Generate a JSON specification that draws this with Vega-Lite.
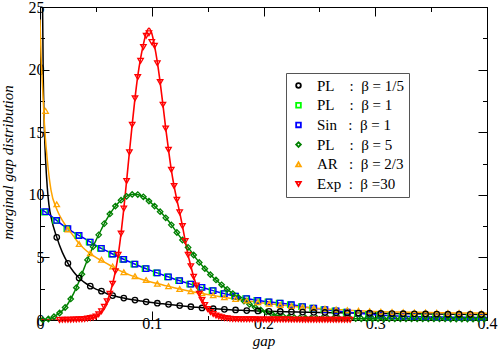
{
"$schema": "https://vega.github.io/schema/vega-lite/v6.json",
"width": 447, "height": 313,
"autosize": "none",
"padding": {"left": 40, "top": 7, "right": 11, "bottom": 31},
"background": "white",
"config": {
  "view": {"stroke": "black", "strokeWidth": 1},
  "font": "Liberation Serif",
  "axis": {"domainColor": "black", "domainWidth": 1, "tickColor": "black", "tickWidth": 1, "grid": false,
           "labelFont": "Liberation Serif", "labelFontSize": 16, "labelColor": "black",
           "titleFont": "Liberation Serif", "titleFontSize": 15, "titleFontStyle": "italic", "titleFontWeight": "normal", "titleColor": "black",
           "labelOverlap": false, "labelFlush": false},
  "legend": {"padding": 5, "strokeColor": "#555555", "fillColor": "white",
             "labelFont": "Liberation Serif", "labelFontSize": 15, "labelColor": "black", "labelOffset": 11,
             "rowPadding": 3.7, "symbolSize": 22, "symbolStrokeWidth": 1.8, "labelLimit": 300}
},
"datasets": {
"lines": [
{"s":"PL 1/5","x":0.0015,"y":40},{"s":"PL 1/5","x":0.0022,"y":26},{"s":"PL 1/5","x":0.003,"y":19},{"s":"PL 1/5","x":0.004,"y":15},{"s":"PL 1/5","x":0.005,"y":12.8},{"s":"PL 1/5","x":0.0065,"y":10.6},{"s":"PL 1/5","x":0.008,"y":9.2},{"s":"PL 1/5","x":0.0107,"y":7.9},{"s":"PL 1/5","x":0.0143,"y":6.8},{"s":"PL 1/5","x":0.02,"y":5.4},{"s":"PL 1/5","x":0.025,"y":4.53},{"s":"PL 1/5","x":0.03,"y":3.85},{"s":"PL 1/5","x":0.035,"y":3.35},{"s":"PL 1/5","x":0.04,"y":2.98},{"s":"PL 1/5","x":0.045,"y":2.7},{"s":"PL 1/5","x":0.05,"y":2.47},{"s":"PL 1/5","x":0.055,"y":2.3},{"s":"PL 1/5","x":0.06,"y":2.1},{"s":"PL 1/5","x":0.065,"y":1.95},{"s":"PL 1/5","x":0.07,"y":1.84},{"s":"PL 1/5","x":0.075,"y":1.75},{"s":"PL 1/5","x":0.08,"y":1.66},{"s":"PL 1/5","x":0.085,"y":1.59},{"s":"PL 1/5","x":0.09,"y":1.52},{"s":"PL 1/5","x":0.1,"y":1.39},{"s":"PL 1/5","x":0.11,"y":1.29},{"s":"PL 1/5","x":0.12,"y":1.2},{"s":"PL 1/5","x":0.13,"y":1.1},{"s":"PL 1/5","x":0.14,"y":1.02},{"s":"PL 1/5","x":0.15,"y":0.94},{"s":"PL 1/5","x":0.16,"y":0.87},{"s":"PL 1/5","x":0.17,"y":0.81},{"s":"PL 1/5","x":0.18,"y":0.77},{"s":"PL 1/5","x":0.19,"y":0.73},{"s":"PL 1/5","x":0.2,"y":0.7},{"s":"PL 1/5","x":0.22,"y":0.66},{"s":"PL 1/5","x":0.25,"y":0.6},{"s":"PL 1/5","x":0.3,"y":0.53},{"s":"PL 1/5","x":0.35,"y":0.48},{"s":"PL 1/5","x":0.4,"y":0.44},
{"s":"Sin 1","x":0,"y":8.92},{"s":"Sin 1","x":0.01,"y":8.3},{"s":"Sin 1","x":0.02,"y":7.6},{"s":"Sin 1","x":0.03,"y":7.0},{"s":"Sin 1","x":0.04,"y":6.5},{"s":"Sin 1","x":0.05,"y":5.95},{"s":"Sin 1","x":0.06,"y":5.5},{"s":"Sin 1","x":0.07,"y":5.05},{"s":"Sin 1","x":0.08,"y":4.65},{"s":"Sin 1","x":0.09,"y":4.27},{"s":"Sin 1","x":0.1,"y":3.92},{"s":"Sin 1","x":0.11,"y":3.6},{"s":"Sin 1","x":0.12,"y":3.28},{"s":"Sin 1","x":0.13,"y":3.0},{"s":"Sin 1","x":0.14,"y":2.72},{"s":"Sin 1","x":0.15,"y":2.47},{"s":"Sin 1","x":0.16,"y":2.22},{"s":"Sin 1","x":0.17,"y":2.0},{"s":"Sin 1","x":0.18,"y":1.8},{"s":"Sin 1","x":0.19,"y":1.63},{"s":"Sin 1","x":0.2,"y":1.5},{"s":"Sin 1","x":0.21,"y":1.4},{"s":"Sin 1","x":0.22,"y":1.29},{"s":"Sin 1","x":0.23,"y":1.15},{"s":"Sin 1","x":0.24,"y":1.0},{"s":"Sin 1","x":0.25,"y":0.89},{"s":"Sin 1","x":0.26,"y":0.78},{"s":"Sin 1","x":0.27,"y":0.67},{"s":"Sin 1","x":0.28,"y":0.57},{"s":"Sin 1","x":0.29,"y":0.49},{"s":"Sin 1","x":0.3,"y":0.42},{"s":"Sin 1","x":0.31,"y":0.36},{"s":"Sin 1","x":0.32,"y":0.31},{"s":"Sin 1","x":0.33,"y":0.28},{"s":"Sin 1","x":0.34,"y":0.26},{"s":"Sin 1","x":0.35,"y":0.24},{"s":"Sin 1","x":0.36,"y":0.23},{"s":"Sin 1","x":0.37,"y":0.22},{"s":"Sin 1","x":0.38,"y":0.21},{"s":"Sin 1","x":0.39,"y":0.2},{"s":"Sin 1","x":0.4,"y":0.19},
{"s":"PL 5","x":0,"y":0},{"s":"PL 5","x":0.005,"y":0.03},{"s":"PL 5","x":0.01,"y":0.15},{"s":"PL 5","x":0.015,"y":0.4},{"s":"PL 5","x":0.02,"y":0.75},{"s":"PL 5","x":0.025,"y":1.3},{"s":"PL 5","x":0.03,"y":2.1},{"s":"PL 5","x":0.035,"y":3.1},{"s":"PL 5","x":0.04,"y":4.25},{"s":"PL 5","x":0.045,"y":5.35},{"s":"PL 5","x":0.05,"y":6.35},{"s":"PL 5","x":0.055,"y":7.25},{"s":"PL 5","x":0.06,"y":8.1},{"s":"PL 5","x":0.065,"y":8.8},{"s":"PL 5","x":0.07,"y":9.35},{"s":"PL 5","x":0.075,"y":9.75},{"s":"PL 5","x":0.08,"y":9.98},{"s":"PL 5","x":0.085,"y":10.05},{"s":"PL 5","x":0.09,"y":9.95},{"s":"PL 5","x":0.095,"y":9.7},{"s":"PL 5","x":0.1,"y":9.3},{"s":"PL 5","x":0.105,"y":8.88},{"s":"PL 5","x":0.11,"y":8.42},{"s":"PL 5","x":0.115,"y":7.9},{"s":"PL 5","x":0.12,"y":7.3},{"s":"PL 5","x":0.125,"y":6.68},{"s":"PL 5","x":0.13,"y":6.1},{"s":"PL 5","x":0.135,"y":5.5},{"s":"PL 5","x":0.14,"y":4.88},{"s":"PL 5","x":0.145,"y":4.35},{"s":"PL 5","x":0.15,"y":3.85},{"s":"PL 5","x":0.155,"y":3.4},{"s":"PL 5","x":0.16,"y":3.0},{"s":"PL 5","x":0.165,"y":2.62},{"s":"PL 5","x":0.17,"y":2.28},{"s":"PL 5","x":0.175,"y":1.95},{"s":"PL 5","x":0.18,"y":1.65},{"s":"PL 5","x":0.185,"y":1.38},{"s":"PL 5","x":0.19,"y":1.12},{"s":"PL 5","x":0.195,"y":0.9},{"s":"PL 5","x":0.2,"y":0.71},{"s":"PL 5","x":0.205,"y":0.55},{"s":"PL 5","x":0.21,"y":0.42},{"s":"PL 5","x":0.215,"y":0.33},{"s":"PL 5","x":0.22,"y":0.26},{"s":"PL 5","x":0.225,"y":0.21},{"s":"PL 5","x":0.23,"y":0.18},{"s":"PL 5","x":0.24,"y":0.15},{"s":"PL 5","x":0.25,"y":0.13},{"s":"PL 5","x":0.275,"y":0.11},{"s":"PL 5","x":0.3,"y":0.1},{"s":"PL 5","x":0.35,"y":0.09},{"s":"PL 5","x":0.4,"y":0.08},
{"s":"AR 2/3","x":0,"y":24},{"s":"AR 2/3","x":0.001,"y":21},{"s":"AR 2/3","x":0.0024,"y":18.4},{"s":"AR 2/3","x":0.004,"y":15.6},{"s":"AR 2/3","x":0.0063,"y":13.0},{"s":"AR 2/3","x":0.0098,"y":10.4},{"s":"AR 2/3","x":0.015,"y":8.85},{"s":"AR 2/3","x":0.02,"y":7.95},{"s":"AR 2/3","x":0.025,"y":7.3},{"s":"AR 2/3","x":0.03,"y":6.7},{"s":"AR 2/3","x":0.035,"y":6.1},{"s":"AR 2/3","x":0.04,"y":5.65},{"s":"AR 2/3","x":0.045,"y":5.3},{"s":"AR 2/3","x":0.05,"y":5.0},{"s":"AR 2/3","x":0.055,"y":4.75},{"s":"AR 2/3","x":0.06,"y":4.5},{"s":"AR 2/3","x":0.065,"y":4.25},{"s":"AR 2/3","x":0.07,"y":4.0},{"s":"AR 2/3","x":0.075,"y":3.8},{"s":"AR 2/3","x":0.08,"y":3.6},{"s":"AR 2/3","x":0.09,"y":3.28},{"s":"AR 2/3","x":0.1,"y":3.02},{"s":"AR 2/3","x":0.11,"y":2.8},{"s":"AR 2/3","x":0.12,"y":2.58},{"s":"AR 2/3","x":0.13,"y":2.38},{"s":"AR 2/3","x":0.14,"y":2.2},{"s":"AR 2/3","x":0.15,"y":2.04},{"s":"AR 2/3","x":0.16,"y":1.88},{"s":"AR 2/3","x":0.17,"y":1.74},{"s":"AR 2/3","x":0.18,"y":1.6},{"s":"AR 2/3","x":0.19,"y":1.47},{"s":"AR 2/3","x":0.2,"y":1.35},{"s":"AR 2/3","x":0.21,"y":1.25},{"s":"AR 2/3","x":0.22,"y":1.15},{"s":"AR 2/3","x":0.23,"y":1.06},{"s":"AR 2/3","x":0.24,"y":0.99},{"s":"AR 2/3","x":0.25,"y":0.92},{"s":"AR 2/3","x":0.26,"y":0.86},{"s":"AR 2/3","x":0.27,"y":0.81},{"s":"AR 2/3","x":0.28,"y":0.76},{"s":"AR 2/3","x":0.29,"y":0.72},{"s":"AR 2/3","x":0.3,"y":0.68},{"s":"AR 2/3","x":0.32,"y":0.64},{"s":"AR 2/3","x":0.34,"y":0.61},{"s":"AR 2/3","x":0.36,"y":0.58},{"s":"AR 2/3","x":0.38,"y":0.56},{"s":"AR 2/3","x":0.4,"y":0.54},
{"s":"Exp 30","x":0,"y":0},{"s":"Exp 30","x":0.0175,"y":0},{"s":"Exp 30","x":0.02,"y":0.01},{"s":"Exp 30","x":0.025,"y":0.02},{"s":"Exp 30","x":0.03,"y":0.03},{"s":"Exp 30","x":0.035,"y":0.05},{"s":"Exp 30","x":0.04,"y":0.08},{"s":"Exp 30","x":0.0425,"y":0.11},{"s":"Exp 30","x":0.045,"y":0.15},{"s":"Exp 30","x":0.0475,"y":0.2},{"s":"Exp 30","x":0.05,"y":0.28},{"s":"Exp 30","x":0.0525,"y":0.45},{"s":"Exp 30","x":0.055,"y":0.7},{"s":"Exp 30","x":0.0575,"y":1.05},{"s":"Exp 30","x":0.06,"y":1.5},{"s":"Exp 30","x":0.0625,"y":2.1},{"s":"Exp 30","x":0.065,"y":2.9},{"s":"Exp 30","x":0.0675,"y":3.9},{"s":"Exp 30","x":0.07,"y":5.2},{"s":"Exp 30","x":0.0725,"y":6.9},{"s":"Exp 30","x":0.075,"y":8.9},{"s":"Exp 30","x":0.0775,"y":11.1},{"s":"Exp 30","x":0.08,"y":13.4},{"s":"Exp 30","x":0.0825,"y":15.6},{"s":"Exp 30","x":0.085,"y":17.7},{"s":"Exp 30","x":0.0875,"y":19.5},{"s":"Exp 30","x":0.09,"y":20.9},{"s":"Exp 30","x":0.0925,"y":22.0},{"s":"Exp 30","x":0.095,"y":22.9},{"s":"Exp 30","x":0.0975,"y":23.3},{"s":"Exp 30","x":0.1,"y":22.9},{"s":"Exp 30","x":0.1025,"y":21.9},{"s":"Exp 30","x":0.105,"y":20.6},{"s":"Exp 30","x":0.1075,"y":19.0},{"s":"Exp 30","x":0.11,"y":17.2},{"s":"Exp 30","x":0.1125,"y":15.3},{"s":"Exp 30","x":0.115,"y":13.6},{"s":"Exp 30","x":0.1175,"y":12.0},{"s":"Exp 30","x":0.12,"y":10.7},{"s":"Exp 30","x":0.1225,"y":9.6},{"s":"Exp 30","x":0.125,"y":8.6},{"s":"Exp 30","x":0.1275,"y":7.5},{"s":"Exp 30","x":0.13,"y":6.3},{"s":"Exp 30","x":0.1325,"y":5.2},{"s":"Exp 30","x":0.135,"y":4.3},{"s":"Exp 30","x":0.1375,"y":3.45},{"s":"Exp 30","x":0.14,"y":2.75},{"s":"Exp 30","x":0.1425,"y":2.1},{"s":"Exp 30","x":0.145,"y":1.6},{"s":"Exp 30","x":0.1475,"y":1.2},{"s":"Exp 30","x":0.15,"y":0.88},{"s":"Exp 30","x":0.1525,"y":0.64},{"s":"Exp 30","x":0.155,"y":0.48},{"s":"Exp 30","x":0.1575,"y":0.36},{"s":"Exp 30","x":0.16,"y":0.27},{"s":"Exp 30","x":0.1625,"y":0.21},{"s":"Exp 30","x":0.165,"y":0.16},{"s":"Exp 30","x":0.17,"y":0.1},{"s":"Exp 30","x":0.175,"y":0.07},{"s":"Exp 30","x":0.18,"y":0.06},{"s":"Exp 30","x":0.19,"y":0.05},{"s":"Exp 30","x":0.2,"y":0.04},{"s":"Exp 30","x":0.22,"y":0.03},{"s":"Exp 30","x":0.25,"y":0.02},{"s":"Exp 30","x":0.2775,"y":0.01}
],
"pts": [
{"s":"PL 1","x":0.004,"y":8.62},{"s":"PL 1","x":0.014,"y":7.95},{"s":"PL 1","x":0.024,"y":7.3},{"s":"PL 1","x":0.034,"y":6.75},{"s":"PL 1","x":0.044,"y":6.22},{"s":"PL 1","x":0.054,"y":5.72},{"s":"PL 1","x":0.064,"y":5.27},{"s":"PL 1","x":0.074,"y":4.85},{"s":"PL 1","x":0.084,"y":4.46},{"s":"PL 1","x":0.094,"y":4.1},{"s":"PL 1","x":0.104,"y":3.76},{"s":"PL 1","x":0.114,"y":3.44},{"s":"PL 1","x":0.124,"y":3.14},{"s":"PL 1","x":0.134,"y":2.86},{"s":"PL 1","x":0.144,"y":2.6},{"s":"PL 1","x":0.154,"y":2.34},{"s":"PL 1","x":0.164,"y":2.11},{"s":"PL 1","x":0.174,"y":1.9},{"s":"PL 1","x":0.184,"y":1.71},{"s":"PL 1","x":0.194,"y":1.56},{"s":"PL 1","x":0.204,"y":1.45},{"s":"PL 1","x":0.214,"y":1.35},{"s":"PL 1","x":0.224,"y":1.22},{"s":"PL 1","x":0.234,"y":1.07},{"s":"PL 1","x":0.244,"y":0.94},{"s":"PL 1","x":0.254,"y":0.83},{"s":"PL 1","x":0.264,"y":0.72},{"s":"PL 1","x":0.274,"y":0.62},{"s":"PL 1","x":0.284,"y":0.53},{"s":"PL 1","x":0.294,"y":0.45},{"s":"PL 1","x":0.304,"y":0.39},{"s":"PL 1","x":0.314,"y":0.33},{"s":"PL 1","x":0.324,"y":0.29},{"s":"PL 1","x":0.334,"y":0.27},{"s":"PL 1","x":0.344,"y":0.25},{"s":"PL 1","x":0.354,"y":0.23},{"s":"PL 1","x":0.364,"y":0.22},{"s":"PL 1","x":0.374,"y":0.21},{"s":"PL 1","x":0.384,"y":0.2},{"s":"PL 1","x":0.394,"y":0.19},
{"s":"Sin 1","x":0.005,"y":8.65},{"s":"Sin 1","x":0.015,"y":7.95},{"s":"Sin 1","x":0.025,"y":7.3},{"s":"Sin 1","x":0.035,"y":6.75},{"s":"Sin 1","x":0.045,"y":6.22},{"s":"Sin 1","x":0.055,"y":5.72},{"s":"Sin 1","x":0.065,"y":5.27},{"s":"Sin 1","x":0.075,"y":4.85},{"s":"Sin 1","x":0.085,"y":4.46},{"s":"Sin 1","x":0.095,"y":4.1},{"s":"Sin 1","x":0.105,"y":3.76},{"s":"Sin 1","x":0.115,"y":3.44},{"s":"Sin 1","x":0.125,"y":3.14},{"s":"Sin 1","x":0.135,"y":2.86},{"s":"Sin 1","x":0.145,"y":2.6},{"s":"Sin 1","x":0.155,"y":2.34},{"s":"Sin 1","x":0.165,"y":2.11},{"s":"Sin 1","x":0.175,"y":1.9},{"s":"Sin 1","x":0.185,"y":1.71},{"s":"Sin 1","x":0.195,"y":1.56},{"s":"Sin 1","x":0.205,"y":1.45},{"s":"Sin 1","x":0.215,"y":1.35},{"s":"Sin 1","x":0.225,"y":1.22},{"s":"Sin 1","x":0.235,"y":1.07},{"s":"Sin 1","x":0.245,"y":0.94},{"s":"Sin 1","x":0.255,"y":0.83},{"s":"Sin 1","x":0.265,"y":0.72},{"s":"Sin 1","x":0.275,"y":0.62},{"s":"Sin 1","x":0.285,"y":0.53},{"s":"Sin 1","x":0.295,"y":0.45},{"s":"Sin 1","x":0.305,"y":0.39},{"s":"Sin 1","x":0.315,"y":0.33},{"s":"Sin 1","x":0.325,"y":0.29},{"s":"Sin 1","x":0.335,"y":0.27},{"s":"Sin 1","x":0.345,"y":0.25},{"s":"Sin 1","x":0.355,"y":0.23},{"s":"Sin 1","x":0.365,"y":0.22},{"s":"Sin 1","x":0.375,"y":0.21},{"s":"Sin 1","x":0.385,"y":0.2},{"s":"Sin 1","x":0.395,"y":0.19},
{"s":"PL 5","x":0.0025,"y":0.01},{"s":"PL 5","x":0.0075,"y":0.08},{"s":"PL 5","x":0.0125,"y":0.26},{"s":"PL 5","x":0.0175,"y":0.56},{"s":"PL 5","x":0.0225,"y":1.0},{"s":"PL 5","x":0.0275,"y":1.68},{"s":"PL 5","x":0.0325,"y":2.58},{"s":"PL 5","x":0.0375,"y":3.66},{"s":"PL 5","x":0.0425,"y":4.8},{"s":"PL 5","x":0.0475,"y":5.86},{"s":"PL 5","x":0.0525,"y":6.8},{"s":"PL 5","x":0.0575,"y":7.7},{"s":"PL 5","x":0.0625,"y":8.47},{"s":"PL 5","x":0.0675,"y":9.1},{"s":"PL 5","x":0.0725,"y":9.57},{"s":"PL 5","x":0.0775,"y":9.88},{"s":"PL 5","x":0.0825,"y":10.03},{"s":"PL 5","x":0.0875,"y":10.02},{"s":"PL 5","x":0.0925,"y":9.84},{"s":"PL 5","x":0.0975,"y":9.5},{"s":"PL 5","x":0.1025,"y":9.1},{"s":"PL 5","x":0.1075,"y":8.65},{"s":"PL 5","x":0.1125,"y":8.16},{"s":"PL 5","x":0.1175,"y":7.6},{"s":"PL 5","x":0.1225,"y":6.99},{"s":"PL 5","x":0.1275,"y":6.39},{"s":"PL 5","x":0.1325,"y":5.8},{"s":"PL 5","x":0.1375,"y":5.19},{"s":"PL 5","x":0.1425,"y":4.6},{"s":"PL 5","x":0.1475,"y":4.1},{"s":"PL 5","x":0.1525,"y":3.62},{"s":"PL 5","x":0.1575,"y":3.2},{"s":"PL 5","x":0.1625,"y":2.81},{"s":"PL 5","x":0.1675,"y":2.45},{"s":"PL 5","x":0.1725,"y":2.11},{"s":"PL 5","x":0.1775,"y":1.8},{"s":"PL 5","x":0.1825,"y":1.51},{"s":"PL 5","x":0.1875,"y":1.25},{"s":"PL 5","x":0.1925,"y":1.01},{"s":"PL 5","x":0.1975,"y":0.8},{"s":"PL 5","x":0.2025,"y":0.63},{"s":"PL 5","x":0.2075,"y":0.48},{"s":"PL 5","x":0.2125,"y":0.37},{"s":"PL 5","x":0.2175,"y":0.29},{"s":"PL 5","x":0.2225,"y":0.23},{"s":"PL 5","x":0.2275,"y":0.19},{"s":"PL 5","x":0.2325,"y":0.17},{"s":"PL 5","x":0.2375,"y":0.16},{"s":"PL 5","x":0.2425,"y":0.15},{"s":"PL 5","x":0.2475,"y":0.14},{"s":"PL 5","x":0.2525,"y":0.13},{"s":"PL 5","x":0.2575,"y":0.13},{"s":"PL 5","x":0.2625,"y":0.12},{"s":"PL 5","x":0.2675,"y":0.12},{"s":"PL 5","x":0.2725,"y":0.11},{"s":"PL 5","x":0.2775,"y":0.11},{"s":"PL 5","x":0.2825,"y":0.11},{"s":"PL 5","x":0.2875,"y":0.1},{"s":"PL 5","x":0.2925,"y":0.1},{"s":"PL 5","x":0.2975,"y":0.1},{"s":"PL 5","x":0.3025,"y":0.1},{"s":"PL 5","x":0.3075,"y":0.1},{"s":"PL 5","x":0.3125,"y":0.1},{"s":"PL 5","x":0.3175,"y":0.1},{"s":"PL 5","x":0.3225,"y":0.09},{"s":"PL 5","x":0.3275,"y":0.09},{"s":"PL 5","x":0.3325,"y":0.09},{"s":"PL 5","x":0.3375,"y":0.09},{"s":"PL 5","x":0.3425,"y":0.09},{"s":"PL 5","x":0.3475,"y":0.09},{"s":"PL 5","x":0.3525,"y":0.09},{"s":"PL 5","x":0.3575,"y":0.09},{"s":"PL 5","x":0.3625,"y":0.09},{"s":"PL 5","x":0.3675,"y":0.08},{"s":"PL 5","x":0.3725,"y":0.08},{"s":"PL 5","x":0.3775,"y":0.08},{"s":"PL 5","x":0.3825,"y":0.08},{"s":"PL 5","x":0.3875,"y":0.08},{"s":"PL 5","x":0.3925,"y":0.08},{"s":"PL 5","x":0.3975,"y":0.08},
{"s":"AR 2/3","x":0.005,"y":16.7},{"s":"AR 2/3","x":0.015,"y":9.24},{"s":"AR 2/3","x":0.025,"y":7.24},{"s":"AR 2/3","x":0.035,"y":6.07},{"s":"AR 2/3","x":0.045,"y":5.33},{"s":"AR 2/3","x":0.055,"y":4.82},{"s":"AR 2/3","x":0.065,"y":4.28},{"s":"AR 2/3","x":0.075,"y":3.82},{"s":"AR 2/3","x":0.085,"y":3.5},{"s":"AR 2/3","x":0.095,"y":3.19},{"s":"AR 2/3","x":0.105,"y":2.9},{"s":"AR 2/3","x":0.115,"y":2.7},{"s":"AR 2/3","x":0.125,"y":2.48},{"s":"AR 2/3","x":0.135,"y":2.3},{"s":"AR 2/3","x":0.145,"y":2.13},{"s":"AR 2/3","x":0.155,"y":1.97},{"s":"AR 2/3","x":0.165,"y":1.81},{"s":"AR 2/3","x":0.175,"y":1.67},{"s":"AR 2/3","x":0.185,"y":1.55},{"s":"AR 2/3","x":0.195,"y":1.42},{"s":"AR 2/3","x":0.205,"y":1.3},{"s":"AR 2/3","x":0.215,"y":1.2},{"s":"AR 2/3","x":0.225,"y":1.11},{"s":"AR 2/3","x":0.235,"y":1.03},{"s":"AR 2/3","x":0.245,"y":0.96},{"s":"AR 2/3","x":0.255,"y":0.9},{"s":"AR 2/3","x":0.265,"y":0.84},{"s":"AR 2/3","x":0.275,"y":0.79},{"s":"AR 2/3","x":0.285,"y":0.74},{"s":"AR 2/3","x":0.295,"y":0.7},{"s":"AR 2/3","x":0.305,"y":0.67},{"s":"AR 2/3","x":0.315,"y":0.65},{"s":"AR 2/3","x":0.325,"y":0.63},{"s":"AR 2/3","x":0.335,"y":0.61},{"s":"AR 2/3","x":0.345,"y":0.6},{"s":"AR 2/3","x":0.355,"y":0.58},{"s":"AR 2/3","x":0.365,"y":0.57},{"s":"AR 2/3","x":0.375,"y":0.56},{"s":"AR 2/3","x":0.385,"y":0.55},{"s":"AR 2/3","x":0.395,"y":0.54},
{"s":"PL 1/5","x":0.015,"y":6.6},{"s":"PL 1/5","x":0.025,"y":4.53},{"s":"PL 1/5","x":0.035,"y":3.35},{"s":"PL 1/5","x":0.045,"y":2.7},{"s":"PL 1/5","x":0.055,"y":2.3},{"s":"PL 1/5","x":0.065,"y":1.95},{"s":"PL 1/5","x":0.075,"y":1.75},{"s":"PL 1/5","x":0.085,"y":1.59},{"s":"PL 1/5","x":0.095,"y":1.45},{"s":"PL 1/5","x":0.105,"y":1.34},{"s":"PL 1/5","x":0.115,"y":1.25},{"s":"PL 1/5","x":0.125,"y":1.15},{"s":"PL 1/5","x":0.135,"y":1.06},{"s":"PL 1/5","x":0.145,"y":0.96},{"s":"PL 1/5","x":0.155,"y":0.9},{"s":"PL 1/5","x":0.165,"y":0.85},{"s":"PL 1/5","x":0.175,"y":0.8},{"s":"PL 1/5","x":0.185,"y":0.75},{"s":"PL 1/5","x":0.195,"y":0.72},{"s":"PL 1/5","x":0.205,"y":0.69},{"s":"PL 1/5","x":0.215,"y":0.68},{"s":"PL 1/5","x":0.225,"y":0.65},{"s":"PL 1/5","x":0.235,"y":0.63},{"s":"PL 1/5","x":0.245,"y":0.61},{"s":"PL 1/5","x":0.255,"y":0.6},{"s":"PL 1/5","x":0.265,"y":0.58},{"s":"PL 1/5","x":0.275,"y":0.56},{"s":"PL 1/5","x":0.285,"y":0.55},{"s":"PL 1/5","x":0.295,"y":0.54},{"s":"PL 1/5","x":0.305,"y":0.52},{"s":"PL 1/5","x":0.315,"y":0.51},{"s":"PL 1/5","x":0.325,"y":0.5},{"s":"PL 1/5","x":0.335,"y":0.49},{"s":"PL 1/5","x":0.345,"y":0.48},{"s":"PL 1/5","x":0.355,"y":0.47},{"s":"PL 1/5","x":0.365,"y":0.46},{"s":"PL 1/5","x":0.375,"y":0.46},{"s":"PL 1/5","x":0.385,"y":0.45},{"s":"PL 1/5","x":0.395,"y":0.44},
{"s":"Exp 30","x":0.0175,"y":0},{"s":"Exp 30","x":0.02,"y":0.01},{"s":"Exp 30","x":0.0225,"y":0.01},{"s":"Exp 30","x":0.025,"y":0.02},{"s":"Exp 30","x":0.0275,"y":0.02},{"s":"Exp 30","x":0.03,"y":0.03},{"s":"Exp 30","x":0.0325,"y":0.04},{"s":"Exp 30","x":0.035,"y":0.05},{"s":"Exp 30","x":0.0375,"y":0.06},{"s":"Exp 30","x":0.04,"y":0.08},{"s":"Exp 30","x":0.0425,"y":0.11},{"s":"Exp 30","x":0.045,"y":0.15},{"s":"Exp 30","x":0.0475,"y":0.2},{"s":"Exp 30","x":0.05,"y":0.28},{"s":"Exp 30","x":0.0525,"y":0.45},{"s":"Exp 30","x":0.055,"y":0.7},{"s":"Exp 30","x":0.0575,"y":1.05},{"s":"Exp 30","x":0.06,"y":1.5},{"s":"Exp 30","x":0.0625,"y":2.1},{"s":"Exp 30","x":0.065,"y":2.9},{"s":"Exp 30","x":0.0675,"y":3.9},{"s":"Exp 30","x":0.07,"y":5.2},{"s":"Exp 30","x":0.0725,"y":6.9},{"s":"Exp 30","x":0.075,"y":8.9},{"s":"Exp 30","x":0.0775,"y":11.1},{"s":"Exp 30","x":0.08,"y":13.4},{"s":"Exp 30","x":0.0825,"y":15.6},{"s":"Exp 30","x":0.085,"y":17.7},{"s":"Exp 30","x":0.0875,"y":19.4},{"s":"Exp 30","x":0.09,"y":20.7},{"s":"Exp 30","x":0.0925,"y":21.8},{"s":"Exp 30","x":0.095,"y":22.7},{"s":"Exp 30","x":0.0975,"y":22.9},{"s":"Exp 30","x":0.1,"y":22.2},{"s":"Exp 30","x":0.1025,"y":21.9},{"s":"Exp 30","x":0.105,"y":20.5},{"s":"Exp 30","x":0.1075,"y":19.0},{"s":"Exp 30","x":0.11,"y":17.2},{"s":"Exp 30","x":0.1125,"y":15.3},{"s":"Exp 30","x":0.115,"y":13.6},{"s":"Exp 30","x":0.1175,"y":12.0},{"s":"Exp 30","x":0.12,"y":10.7},{"s":"Exp 30","x":0.1225,"y":9.6},{"s":"Exp 30","x":0.125,"y":8.6},{"s":"Exp 30","x":0.1275,"y":7.5},{"s":"Exp 30","x":0.13,"y":6.3},{"s":"Exp 30","x":0.1325,"y":5.2},{"s":"Exp 30","x":0.135,"y":4.3},{"s":"Exp 30","x":0.1375,"y":3.45},{"s":"Exp 30","x":0.14,"y":2.75},{"s":"Exp 30","x":0.1425,"y":2.1},{"s":"Exp 30","x":0.145,"y":1.6},{"s":"Exp 30","x":0.1475,"y":1.2},{"s":"Exp 30","x":0.15,"y":0.88},{"s":"Exp 30","x":0.1525,"y":0.64},{"s":"Exp 30","x":0.155,"y":0.48},{"s":"Exp 30","x":0.1575,"y":0.36},{"s":"Exp 30","x":0.16,"y":0.27},{"s":"Exp 30","x":0.1625,"y":0.21},{"s":"Exp 30","x":0.165,"y":0.16},{"s":"Exp 30","x":0.1675,"y":0.13},{"s":"Exp 30","x":0.17,"y":0.1},{"s":"Exp 30","x":0.1725,"y":0.08},{"s":"Exp 30","x":0.175,"y":0.07},{"s":"Exp 30","x":0.1775,"y":0.065},{"s":"Exp 30","x":0.18,"y":0.06},{"s":"Exp 30","x":0.1825,"y":0.06},{"s":"Exp 30","x":0.185,"y":0.055},{"s":"Exp 30","x":0.1875,"y":0.055},{"s":"Exp 30","x":0.19,"y":0.05},{"s":"Exp 30","x":0.1925,"y":0.05},{"s":"Exp 30","x":0.195,"y":0.045},{"s":"Exp 30","x":0.1975,"y":0.045},{"s":"Exp 30","x":0.2,"y":0.04},{"s":"Exp 30","x":0.2025,"y":0.04},{"s":"Exp 30","x":0.205,"y":0.04},{"s":"Exp 30","x":0.2075,"y":0.035},{"s":"Exp 30","x":0.21,"y":0.035},{"s":"Exp 30","x":0.2125,"y":0.035},{"s":"Exp 30","x":0.215,"y":0.03},{"s":"Exp 30","x":0.2175,"y":0.03},{"s":"Exp 30","x":0.22,"y":0.03},{"s":"Exp 30","x":0.2225,"y":0.03},{"s":"Exp 30","x":0.225,"y":0.025},{"s":"Exp 30","x":0.2275,"y":0.025},{"s":"Exp 30","x":0.23,"y":0.025},{"s":"Exp 30","x":0.2325,"y":0.025},{"s":"Exp 30","x":0.235,"y":0.02},{"s":"Exp 30","x":0.2375,"y":0.02},{"s":"Exp 30","x":0.24,"y":0.02},{"s":"Exp 30","x":0.2425,"y":0.02},{"s":"Exp 30","x":0.245,"y":0.02},{"s":"Exp 30","x":0.2475,"y":0.02},{"s":"Exp 30","x":0.25,"y":0.02},{"s":"Exp 30","x":0.2525,"y":0.015},{"s":"Exp 30","x":0.255,"y":0.015},{"s":"Exp 30","x":0.2575,"y":0.015},{"s":"Exp 30","x":0.26,"y":0.015},{"s":"Exp 30","x":0.2625,"y":0.015},{"s":"Exp 30","x":0.265,"y":0.01},{"s":"Exp 30","x":0.2675,"y":0.01},{"s":"Exp 30","x":0.27,"y":0.01},{"s":"Exp 30","x":0.2725,"y":0.01},{"s":"Exp 30","x":0.275,"y":0.01},{"s":"Exp 30","x":0.2775,"y":0.01}
]
},
"layer": [
 {
  "data": {"name": "lines"},
  "transform": [{"filter": "datum.s == 'PL 1/5'"}],
  "mark": {"type": "line", "interpolate": "monotone", "clip": true, "strokeWidth": 1.5, "color": "#000000"},
  "encoding": {
   "x": {"field": "x", "type": "quantitative", "scale": {"domain": [0, 0.4], "nice": false, "zero": false},
         "axis": {"orient": "bottom", "values": [0,0.05,0.1,0.15,0.2,0.25,0.3,0.35,0.4], "title": "gap",
                  "labelExpr": "abs(datum.value*10 - round(datum.value*10)) < 0.001 ? (datum.value == 0 ? '0' : format(datum.value, '.1f')) : ''",
                  "tickSize": {"condition": {"test": "abs(datum.value*10 - round(datum.value*10)) < 0.001", "value": -9}, "value": -4.5},
                  "labelPadding": 4, "titleBaseline": "alphabetic", "titleY": 25}},
   "y": {"field": "y", "type": "quantitative", "scale": {"domain": [0, 25], "nice": false},
         "axis": {"orient": "left", "values": [0,2.5,5,7.5,10,12.5,15,17.5,20,22.5,25], "title": "marginal gap distribution",
                  "labelExpr": "abs(datum.value/5 - round(datum.value/5)) < 0.001 ? format(datum.value, 'd') : ''",
                  "tickSize": {"condition": {"test": "abs(datum.value/5 - round(datum.value/5)) < 0.001", "value": -9}, "value": -4.5},
                  "labelPadding": 5, "titleX": -28, "titleY": 155, "titleBaseline": "alphabetic", "titleAngle": -90}}
  }
 },
 {
  "data": {"name": "lines"},
  "transform": [{"filter": "datum.s == 'Sin 1'"}],
  "mark": {"type": "line", "interpolate": "monotone", "clip": true, "strokeWidth": 1.5, "color": "#0000ff"},
  "encoding": {
   "x": {"field": "x", "type": "quantitative", "scale": {"domain": [0, 0.4], "nice": false, "zero": false}, "axis": null},
   "y": {"field": "y", "type": "quantitative", "scale": {"domain": [0, 25], "nice": false}, "axis": null}
  }
 },
 {
  "data": {"name": "lines"},
  "transform": [{"filter": "datum.s == 'PL 5'"}],
  "mark": {"type": "line", "interpolate": "monotone", "clip": true, "strokeWidth": 1.5, "color": "#008000"},
  "encoding": {
   "x": {"field": "x", "type": "quantitative", "scale": {"domain": [0, 0.4], "nice": false, "zero": false}, "axis": null},
   "y": {"field": "y", "type": "quantitative", "scale": {"domain": [0, 25], "nice": false}, "axis": null}
  }
 },
 {
  "data": {"name": "lines"},
  "transform": [{"filter": "datum.s == 'AR 2/3'"}],
  "mark": {"type": "line", "interpolate": "monotone", "clip": true, "strokeWidth": 1.5, "color": "#ffa500"},
  "encoding": {
   "x": {"field": "x", "type": "quantitative", "scale": {"domain": [0, 0.4], "nice": false, "zero": false}, "axis": null},
   "y": {"field": "y", "type": "quantitative", "scale": {"domain": [0, 25], "nice": false}, "axis": null}
  }
 },
 {
  "data": {"name": "lines"},
  "transform": [{"filter": "datum.s == 'Exp 30'"}],
  "mark": {"type": "line", "interpolate": "monotone", "clip": true, "strokeWidth": 1.6, "color": "#ff0000"},
  "encoding": {
   "x": {"field": "x", "type": "quantitative", "scale": {"domain": [0, 0.4], "nice": false, "zero": false}, "axis": null},
   "y": {"field": "y", "type": "quantitative", "scale": {"domain": [0, 25], "nice": false}, "axis": null}
  }
 },
 {
  "data": {"name": "pts"},
  "mark": {"type": "point", "filled": false, "strokeWidth": 1.3, "size": 30, "opacity": 1},
  "encoding": {
   "x": {"field": "x", "type": "quantitative", "scale": {"domain": [0, 0.4], "nice": false, "zero": false},
         "axis": {"orient": "top", "values": [0,0.05,0.1,0.15,0.2,0.25,0.3,0.35,0.4], "labels": false, "title": null,
                  "tickSize": {"condition": {"test": "abs(datum.value*10 - round(datum.value*10)) < 0.001", "value": -9}, "value": -4.5}}},
   "y": {"field": "y", "type": "quantitative", "scale": {"domain": [0, 25], "nice": false},
         "axis": {"orient": "right", "values": [0,2.5,5,7.5,10,12.5,15,17.5,20,22.5,25], "labels": false, "title": null,
                  "tickSize": {"condition": {"test": "abs(datum.value/5 - round(datum.value/5)) < 0.001", "value": -9}, "value": -4.5}}},
   "color": {"field": "s", "type": "nominal",
             "scale": {"domain": ["PL 1/5", "PL 1", "Sin 1", "PL 5", "AR 2/3", "Exp 30"], "range": ["#000000", "#00ff00", "#0000ff", "#008000", "#ffa500", "#ff0000"]},
             "legend": {"title": null, "orient": "none", "legendX": 246, "legendY": 66,
                        "labelExpr": "datum.label == 'PL 1/5' ? 'PL\u00a0\u00a0\u00a0\u00a0:\u00a0\u00a0β = 1/5' : datum.label == 'PL 1' ? 'PL\u00a0\u00a0\u00a0\u00a0:\u00a0\u00a0β = 1' : datum.label == 'Sin 1' ? 'Sin\u00a0\u00a0\u00a0:\u00a0\u00a0β = 1' : datum.label == 'PL 5' ? 'PL\u00a0\u00a0\u00a0\u00a0:\u00a0\u00a0β = 5' : datum.label == 'AR 2/3' ? 'AR\u00a0\u00a0\u00a0:\u00a0\u00a0β = 2/3' : 'Exp\u00a0\u00a0:\u00a0\u00a0β =30'"}},
   "shape": {"field": "s", "type": "nominal",
             "scale": {"domain": ["PL 1/5", "PL 1", "Sin 1", "PL 5", "AR 2/3", "Exp 30"], "range": ["circle", "square", "square", "diamond", "triangle-up", "triangle-down"]},
             "legend": {"title": null, "orient": "none", "legendX": 246, "legendY": 66,
                        "labelExpr": "datum.label == 'PL 1/5' ? 'PL\u00a0\u00a0\u00a0\u00a0:\u00a0\u00a0β = 1/5' : datum.label == 'PL 1' ? 'PL\u00a0\u00a0\u00a0\u00a0:\u00a0\u00a0β = 1' : datum.label == 'Sin 1' ? 'Sin\u00a0\u00a0\u00a0:\u00a0\u00a0β = 1' : datum.label == 'PL 5' ? 'PL\u00a0\u00a0\u00a0\u00a0:\u00a0\u00a0β = 5' : datum.label == 'AR 2/3' ? 'AR\u00a0\u00a0\u00a0:\u00a0\u00a0β = 2/3' : 'Exp\u00a0\u00a0:\u00a0\u00a0β =30'"}}
  }
 }
],
"resolve": {"axis": {"x": "independent", "y": "independent"}}
}
